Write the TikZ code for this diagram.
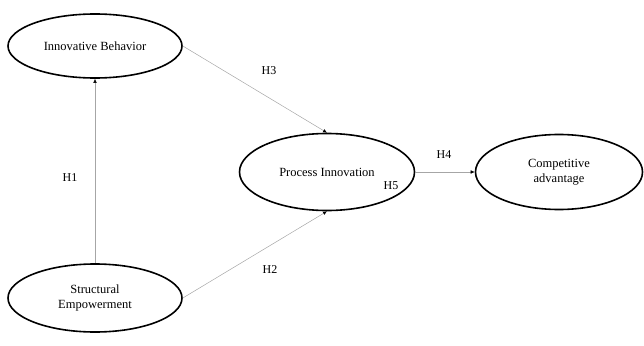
\documentclass[tikz,border=0pt]{standalone}
\usepackage{fontspec}
\setmainfont{Liberation Serif}
\usetikzlibrary{arrows.meta,shapes.geometric}
\begin{document}
\begin{tikzpicture}[x=1pt,y=-1pt,
  construct/.style={draw=black,line width=1.6pt,ellipse,align=center,font=\fontsize{12.5}{15}\selectfont,inner sep=0pt},
  link/.style={draw=gray!70,line width=0.5pt,-{Latex[length=4pt,width=3.5pt,black]}},
  hlabel/.style={font=\fontsize{12}{14}\selectfont}]
\useasboundingbox (0,0) rectangle (644,345);
\node[construct,minimum width=174pt,minimum height=64pt] (ib) at (95,46) {Innovative Behavior};
\node[construct,minimum width=174pt,minimum height=68pt] (se) at (95,298) {Structural\\Empowerment};
\node[construct,minimum width=175pt,minimum height=77pt] (pi) at (327,172) {Process Innovation};
\node[construct,minimum width=167pt,minimum height=75pt] (ca) at (559,172) {Competitive\\advantage};
\draw[link] (se.north) -- (ib.south);
\draw[link] (ib.east) -- (pi.north);
\draw[link] (se.east) -- (pi.south);
\draw[link] (pi.east) -- (ca.west);
\node[hlabel] (h1) at (70,178) {H1};
\node[hlabel] (h3) at (269,71) {H3};
\node[hlabel] (h2) at (270,270) {H2};
\node[hlabel] (h4) at (444,155) {H4};
\node[hlabel] (h5) at (391,186) {H5};
\end{tikzpicture}
\end{document}
